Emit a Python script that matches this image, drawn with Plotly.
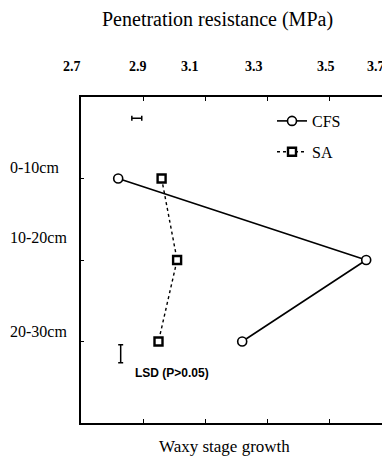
import plotly.graph_objects as go

# ---- data ----
depths = ["0-10cm", "10-20cm", "20-30cm"]
depth_pos = [1, 2, 3]
cfs_values = [2.82, 3.62, 3.22]
sa_values = [2.96, 3.01, 2.95]
x_tick_values = [2.7, 2.9, 3.1, 3.3, 3.5, 3.7]
x_tick_labels = ["2.7", "2.9", "3.1", "3.3", "3.5", "3.7"]
lsd_h_center = [2.88]
lsd_h_row = [0.26]
lsd_h_half = [0.016]
lsd_v_x = [2.828]
lsd_v_center = [3.15]
lsd_v_half = [0.11]

# ---- layout geometry (pixels) ----
# the page body has an 8px default margin, so the figure is 8px smaller
OFF = 8
W, H = 390 - OFF, 461 - OFF
ML, MR, MT, MB = 81 - OFF, 0, 97 - OFF, H - (423 - OFF)
PW = W - ML - MR
PH = H - MT - MB
SERIF = "Liberation Serif, Times New Roman, serif"
SANS = "Liberation Sans, Arial, sans-serif"


def px_x(px):
    return (px - OFF - ML) / PW


def px_y(py):
    return (H - MB - (py - OFF)) / PH


fig = go.Figure()

fig.add_trace(go.Scatter(
    x=cfs_values, y=depth_pos, name="CFS", mode="lines+markers",
    line=dict(color="black", width=1.6),
    marker=dict(symbol="circle", size=9, color="white",
                line=dict(color="black", width=1.6)),
    legendgroup="a",
))
fig.add_trace(go.Scatter(
    x=sa_values, y=depth_pos, name="SA", mode="lines+markers",
    line=dict(color="black", width=1.4, dash="dot"),
    marker=dict(symbol="square", size=8, color="white",
                line=dict(color="black", width=2.4)),
    legendgroup="b",
))
# LSD bars
fig.add_trace(go.Scatter(
    x=lsd_h_center, y=lsd_h_row, mode="markers", showlegend=False,
    marker=dict(size=0.1, color="black"),
    error_x=dict(type="data", array=lsd_h_half, color="black",
                 thickness=1.5, width=2.5),
))
fig.add_trace(go.Scatter(
    x=lsd_v_x, y=lsd_v_center, mode="markers", showlegend=False,
    marker=dict(size=0.1, color="black"),
    error_y=dict(type="data", array=lsd_v_half, color="black",
                 thickness=1.5, width=2.5),
))

annotations = []
# title
annotations.append(dict(text="Penetration resistance (MPa)", xref="paper", yref="paper",
                        x=px_x(217), y=px_y(19), showarrow=False,
                        xanchor="center", yanchor="middle",
                        font=dict(family=SERIF, size=20, color="black")))
# x tick labels (as printed above the frame)
x_label_px = [72, 138, 190, 254, 326, 376]
for lab, p in zip(x_tick_labels, x_label_px):
    annotations.append(dict(text=lab, xref="paper", yref="paper",
                            x=px_x(p), y=px_y(66), showarrow=False,
                            xanchor="center", yanchor="middle",
                            font=dict(family=SERIF, size=14, color="black", weight="bold")))
# depth labels
y_label_px = [167, 238, 331]
for lab, p in zip(depths, y_label_px):
    annotations.append(dict(text=lab, xref="paper", yref="paper",
                            x=px_x(8), y=px_y(p), showarrow=False,
                            xanchor="left", yanchor="middle",
                            font=dict(family=SERIF, size=16, color="black")))
# bottom caption
annotations.append(dict(text="Waxy stage growth", xref="paper", yref="paper",
                        x=px_x(224), y=px_y(446), showarrow=False,
                        xanchor="center", yanchor="middle",
                        font=dict(family=SERIF, size=17, color="black")))
# LSD label
annotations.append(dict(text="LSD (P>0.05)", xref="paper", yref="paper",
                        x=px_x(133), y=px_y(373), showarrow=False,
                        xanchor="left", yanchor="middle",
                        font=dict(family=SANS, size=12, color="black", weight="bold")))

fig.update_layout(
    width=W, height=H,
    margin=dict(l=ML, r=MR, t=MT, b=MB, autoexpand=False),
    paper_bgcolor="white", plot_bgcolor="white",
    showlegend=True,
    legend=dict(x=px_x(272), y=px_y(104), xanchor="left", yanchor="top",
                bgcolor="rgba(0,0,0,0)", borderwidth=0,
                font=dict(family=SERIF, size=16, color="black"),
                tracegroupgap=7, itemwidth=30),
    annotations=annotations,
    xaxis=dict(range=[2.7, 2.7 + PW / 310 * 1.0], tickvals=x_tick_values,
               showticklabels=False, ticks="inside", ticklen=4, tickcolor="black",
               tickwidth=1, showline=True, linecolor="black", linewidth=1.5,
               mirror="allticks", showgrid=False, zeroline=False, fixedrange=True),
    yaxis=dict(range=[4, 0], tickvals=depth_pos, showticklabels=False,
               ticks="inside", ticklen=3, tickcolor="black", tickwidth=1,
               showline=True, linecolor="black", linewidth=1.8,
               showgrid=False, zeroline=False, fixedrange=True),
)

fig.write_html("out.html")
